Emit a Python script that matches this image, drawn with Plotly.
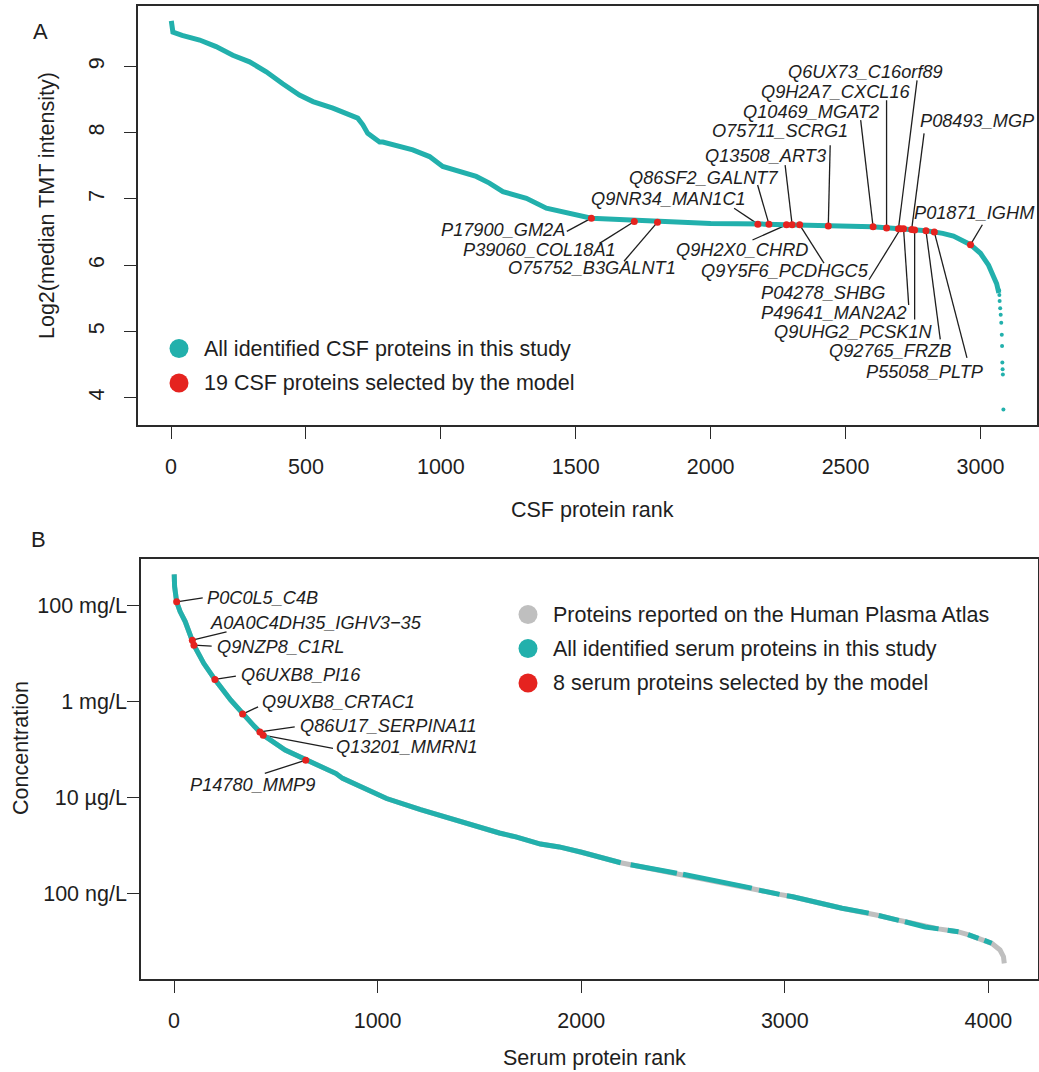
import math
import plotly.graph_objects as go

# ---------------- Panel A: CSF proteins ----------------
# ranked median TMT intensity (log2) along the abundance curve
csf_rank = [1, 3, 7, 41, 106, 167, 229, 291, 353, 414, 476, 526, 600, 692, 711, 729,
            773, 785, 847, 896, 958, 1007, 1131, 1180, 1230, 1317, 1391, 1477, 1558,
            1662, 1800, 2000, 2200, 2400, 2600, 2700, 2800, 2860, 2900, 2963, 3000,
            3030, 3050, 3060, 3068]
csf_log2 = [9.69, 9.60, 9.52, 9.47, 9.40, 9.30, 9.17, 9.07, 8.92, 8.74, 8.57, 8.47,
            8.37, 8.22, 8.12, 7.99, 7.86, 7.86, 7.79, 7.74, 7.64, 7.49, 7.34, 7.24,
            7.11, 7.01, 6.86, 6.79, 6.71, 6.69, 6.66, 6.63, 6.62, 6.60, 6.58, 6.55,
            6.52, 6.48, 6.44, 6.31, 6.18, 6.00, 5.84, 5.72, 5.58]
# sparse low-intensity tail
csf_tail_rank = [3069, 3070, 3071, 3073, 3075, 3077, 3079, 3080, 3081, 3082, 3083, 3085]
csf_tail_log2 = [5.62, 5.55, 5.46, 5.35, 5.25, 5.13, 4.95, 4.78, 4.53, 4.43, 4.35, 3.82]

csf_sel_names = ["P17900_GM2A", "P39060_COL18A1", "O75752_B3GALNT1", "Q9NR34_MAN1C1",
                 "Q86SF2_GALNT7", "Q9H2X0_CHRD", "Q13508_ART3", "Q9Y5F6_PCDHGC5",
                 "O75711_SCRG1", "Q10469_MGAT2", "Q9H2A7_CXCL16", "Q6UX73_C16orf89",
                 "P04278_SHBG", "P49641_MAN2A2", "P08493_MGP", "Q9UHG2_PCSK1N",
                 "Q92765_FRZB", "P55058_PLTP", "P01871_IGHM"]
csf_sel_rank = [1558, 1717, 1803, 2175, 2216, 2281, 2302, 2330, 2436, 2602, 2652, 2696,
                2704, 2715, 2745, 2756, 2798, 2829, 2963]
csf_sel_log2 = [6.71, 6.66, 6.65, 6.62, 6.62, 6.61, 6.61, 6.61, 6.59, 6.58, 6.56, 6.55,
                6.55, 6.55, 6.54, 6.53, 6.52, 6.50, 6.31]

# ---------------- Panel B: serum proteins ----------------
serum_rank = [1, 3, 13, 30, 55, 90, 98, 146, 201, 279, 337, 396, 422, 438, 546, 647,
              796, 828, 962, 1044, 1211, 1327, 1461, 1598, 1679, 1800, 1892, 2002, 2194,
              2243, 2431, 2470, 2500, 2544, 2709, 2838, 2873, 2954, 2974, 3010, 3039,
              3281, 3412, 3461, 3560, 3590, 3690, 3755, 3800, 3853, 3900, 3951, 3980,
              4016, 4057, 4074, 4078]
# concentration in mg/L
serum_conc = [452, 251, 120, 75.9, 46.8, 19.5, 15.1, 6.31, 2.88, 1.07, 0.550, 0.302,
              0.234, 0.200, 0.0977, 0.0603, 0.0316, 0.0251, 0.0141, 0.00955, 0.00562,
              0.00398, 0.00275, 0.00182, 0.00151, 0.00107, 9.33e-4, 7.24e-4, 4.37e-4,
              3.98e-4, 2.82e-4, 2.63e-4, 2.51e-4, 2.29e-4, 1.66e-4, 1.29e-4, 1.17e-4,
              1.00e-4, 9.55e-5, 8.91e-5, 8.51e-5, 4.90e-5, 3.89e-5, 3.47e-5, 2.75e-5,
              2.57e-5, 2.00e-5, 1.82e-5, 1.70e-5, 1.58e-5, 1.38e-5, 1.15e-5, 1.05e-5,
              9.12e-6, 6.61e-6, 4.79e-6, 3.47e-6]
# 1 = stretch starting at this rank identified in this study, 0 = atlas only
serum_in_study = [1, 1, 1, 1, 1, 1, 1, 1, 1, 1, 1, 1, 1, 1, 1, 1, 1, 1, 1, 1, 1, 1, 1,
                  1, 1, 1, 1, 1, 0, 1, 1, 0, 1, 1, 1, 0, 1, 1, 0, 1, 1, 1, 0, 1, 0, 1,
                  1, 0, 1, 0, 1, 0, 1, 0, 0, 0, 0]

serum_sel_names = ["P0C0L5_C4B", "A0A0C4DH35_IGHV3\u221235", "Q9NZP8_C1RL", "Q6UXB8_PI16",
                   "Q9UXB8_CRTAC1", "Q86U17_SERPINA11", "Q13201_MMRN1", "P14780_MMP9"]
serum_sel_rank = [13, 90, 98, 201, 337, 422, 438, 647]
serum_sel_conc = [121, 19.2, 15.1, 2.91, 0.550, 0.234, 0.200, 0.0603]

# ---------------- label placement (text left/centre, leader start) ----------------
csf_label_pos = {
    "P17900_GM2A": (992, 6.53, 1467, 6.51),
    "P39060_COL18A1": (1075, 6.23, 1588, 6.33),
    "O75752_B3GALNT1": (1242, 5.96, 1679, 6.06),
    "Q9NR34_MAN1C1": (1550, 7.00, 2087, 6.86),
    "Q86SF2_GALNT7": (1690, 7.32, 2174, 7.21),
    "Q9H2X0_CHRD": (1864, 6.23, 2155, 6.38),
    "Q13508_ART3": (1970, 7.65, 2276, 7.51),
    "Q9Y5F6_PCDHGC5": (1955, 5.91, 2420, 6.03),
    "O75711_SCRG1": (1999, 8.02, 2443, 7.81),
    "Q10469_MGAT2": (2111, 8.32, 2556, 8.19),
    "Q9H2A7_CXCL16": (2181, 8.62, 2652, 8.49),
    "Q6UX73_C16orf89": (2280, 8.92, 2765, 8.79),
    "P04278_SHBG": (2181, 5.58, 2587, 5.78),
    "P49641_MAN2A2": (2181, 5.28, 2734, 5.40),
    "P08493_MGP": (2770, 8.17, 2791, 7.99),
    "Q9UHG2_PCSK1N": (2227, 4.99, 2756, 5.18),
    "Q92765_FRZB": (2432, 4.70, 2851, 4.88),
    "P55058_PLTP": (2567, 4.39, 2950, 4.60),
    "P01871_IGHM": (2748, 6.79, 3007, 6.61),
}
serum_label_pos = {
    "P0C0L5_C4B": (150, 143, 141, 147),
    "A0A0C4DH35_IGHV3\u221235": (166, 43.0, 258, 28.7),
    "Q9NZP8_C1RL": (199, 13.6, 185, 14.4),
    "Q6UXB8_PI16": (318, 3.58, 304, 3.41),
    "Q9UXB8_CRTAC1": (420, 0.993, 413, 0.782),
    "Q86U17_SERPINA11": (607, 0.309, 593, 0.299),
    "Q13201_MMRN1": (787, 0.111, 781, 0.106),
    "P14780_MMP9": (68, 0.0182, 446, 0.0318),
}

# ---------------- styling ----------------
W, H = 1039, 1072
TEAL = "#22B0AC"
RED = "#E5231F"
GREY = "#BFBFBF"
INK = "#1e1e1e"
FONT = "Liberation Sans, Arial, Helvetica, sans-serif"
AXFS = 21.5
LBLFS = 18.2


def px(x):
    return x / W


def py(y):
    return 1 - y / H


fig = go.Figure()

# panel A
fig.add_trace(go.Scatter(x=csf_rank, y=csf_log2, mode="lines",
                         line=dict(color=TEAL, width=5), xaxis="x", yaxis="y",
                         hoverinfo="skip"))
fig.add_trace(go.Scatter(x=csf_tail_rank, y=csf_tail_log2, mode="markers",
                         marker=dict(color=TEAL, size=4), xaxis="x", yaxis="y"))
fig.add_trace(go.Scatter(x=csf_sel_rank, y=csf_sel_log2, mode="markers",
                         marker=dict(color=RED, size=7), text=csf_sel_names,
                         xaxis="x", yaxis="y"))

# panel B: atlas curve underneath, study proteins on top
fig.add_trace(go.Scatter(x=serum_rank, y=serum_conc, mode="lines",
                         line=dict(color=GREY, width=5), xaxis="x2", yaxis="y2",
                         hoverinfo="skip"))
tx, ty = [], []
for i in range(len(serum_rank) - 1):
    if not serum_in_study[i]:
        continue
    if not tx or tx[-1] != serum_rank[i]:
        if tx:
            tx.append(None)
            ty.append(None)
        tx.append(serum_rank[i])
        ty.append(serum_conc[i])
    tx.append(serum_rank[i + 1])
    ty.append(serum_conc[i + 1])
fig.add_trace(go.Scatter(x=tx, y=ty, mode="lines", connectgaps=False,
                         line=dict(color=TEAL, width=5), xaxis="x2", yaxis="y2",
                         hoverinfo="skip"))
fig.add_trace(go.Scatter(x=serum_sel_rank, y=serum_sel_conc, mode="markers",
                         marker=dict(color=RED, size=7), text=serum_sel_names,
                         xaxis="x2", yaxis="y2"))

shapes = []
annotations = []

# leader lines + italic labels, panel A
for name, r, v in zip(csf_sel_names, csf_sel_rank, csf_sel_log2):
    tx0, ty0, lx, ly = csf_label_pos[name]
    shapes.append(dict(type="line", xref="x", yref="y", x0=lx, y0=ly, x1=r, y1=v,
                       line=dict(color=INK, width=1.3), layer="below"))
    annotations.append(dict(x=tx0, y=ty0, xref="x", yref="y", text="<i>%s</i>" % name,
                            showarrow=False, xanchor="left", yanchor="middle",
                            font=dict(family=FONT, size=LBLFS, color=INK)))

# leader lines + italic labels, panel B (log axis: annotations take log10)
for name, r, c in zip(serum_sel_names, serum_sel_rank, serum_sel_conc):
    tx0, ty0, lx, ly = serum_label_pos[name]
    shapes.append(dict(type="line", xref="x2", yref="y2", x0=lx, y0=ly, x1=r, y1=c,
                       line=dict(color=INK, width=1.3), layer="below"))
    annotations.append(dict(x=tx0, y=math.log10(ty0), xref="x2", yref="y2",
                            text="<i>%s</i>" % name, showarrow=False,
                            xanchor="left", yanchor="middle",
                            font=dict(family=FONT, size=LBLFS, color=INK)))


# hand-built legends
def legend_item(cx, cy, color, text):
    r = 9.5
    shapes.append(dict(type="circle", xref="paper", yref="paper",
                       x0=px(cx - r), x1=px(cx + r), y0=py(cy + r), y1=py(cy - r),
                       fillcolor=color, line=dict(width=0)))
    annotations.append(dict(x=px(cx + 23), y=py(cy), xref="paper", yref="paper",
                            text=text, showarrow=False, xanchor="left",
                            yanchor="middle", font=dict(family=FONT, size=AXFS, color=INK)))


legend_item(179, 348.5, TEAL, "All identified CSF proteins in this study")
legend_item(179, 383, RED, "19 CSF proteins selected by the model")
legend_item(528, 614.5, GREY, "Proteins reported on the Human Plasma Atlas")
legend_item(528, 648.5, TEAL, "All identified serum proteins in this study")
legend_item(528, 683, RED, "8 serum proteins selected by the model")


def free_text(x, y, text, size=AXFS, angle=0):
    annotations.append(dict(x=px(x), y=py(y), xref="paper", yref="paper", text=text,
                            showarrow=False, xanchor="center", yanchor="middle",
                            textangle=angle, font=dict(family=FONT, size=size, color=INK)))


free_text(40, 32, "A", size=22)
free_text(38, 539, "B", size=22)
free_text(592, 510, "CSF protein rank")
free_text(47, 206, "Log2(median TMT intensity)", angle=-90)
free_text(594, 1058, "Serum protein rank")
free_text(21, 748, "Concentration", angle=-90)

axis_common = dict(showline=True, mirror=True, linecolor="#2a2a2a", linewidth=1.6,
                   ticks="outside", ticklen=12, tickwidth=1.4, tickcolor="#2a2a2a",
                   showgrid=False, zeroline=False,
                   tickfont=dict(family=FONT, size=AXFS, color=INK))

fig.update_layout(
    width=W, height=H,
    margin=dict(l=0, r=0, t=0, b=0),
    paper_bgcolor="white", plot_bgcolor="white",
    showlegend=False,
    xaxis=dict(axis_common, domain=[px(138), px(1036.7)], anchor="y",
               range=[-122.4, 3208.4], tickvals=[0, 500, 1000, 1500, 2000, 2500, 3000],
               ticklabelstandoff=9),
    yaxis=dict(axis_common, domain=[py(425), py(5.7)], anchor="x",
               range=[3.587, 9.918], tickvals=[4, 5, 6, 7, 8, 9], tickangle=-90,
               ticklabelstandoff=12),
    xaxis2=dict(axis_common, domain=[px(141), px(1037.5)], anchor="y2",
                range=[-162.1, 4241.1], tickvals=[0, 1000, 2000, 3000, 4000],
                ticklabelstandoff=9),
    yaxis2=dict(axis_common, domain=[py(979), py(559.3)], anchor="x2", type="log",
                range=[-5.785, 2.97], tickvals=[100, 1, 0.01, 0.0001],
                ticktext=["100 mg/L", "1 mg/L", "10 \u00b5g/L", "100 ng/L"],
                ticklabelstandoff=-4),
    shapes=shapes,
    annotations=annotations,
)

fig.write_html("out.html")
